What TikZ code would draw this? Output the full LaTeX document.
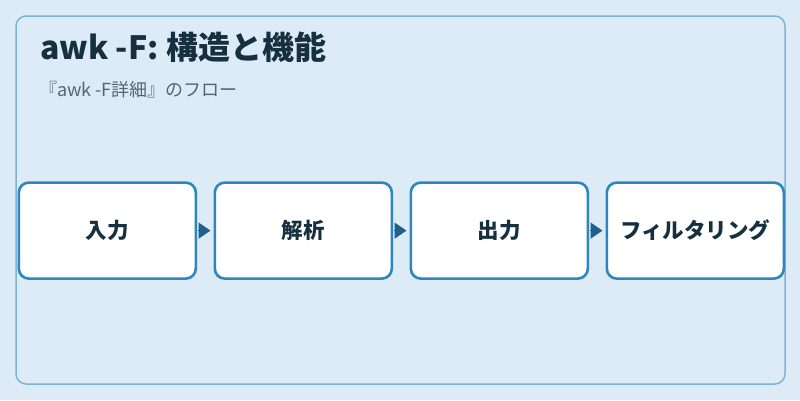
\documentclass[tikz,border=0pt]{standalone}
\usepackage{fontspec}
\setmainfont{Noto Sans CJK JP}
\usetikzlibrary{arrows.meta}
\definecolor{bgc}{HTML}{DCEBF6}
\definecolor{framec}{HTML}{7FB3D5}
\definecolor{boxc}{HTML}{2E86C1}
\definecolor{arrc}{HTML}{1F618D}
\definecolor{titlec}{HTML}{17303F}
\definecolor{subc}{HTML}{566573}
\tikzset{
  stepbox/.style={draw=boxc, line width=2.6pt, fill=white, rounded corners=10pt,
    minimum width=177pt, minimum height=96pt, inner sep=0pt,
    font=\fontsize{21.5pt}{24pt}\selectfont\bfseries, text=titlec, anchor=north west},
  flow/.style={draw=arrc, line width=1.5pt, -{Triangle[length=12pt,width=16pt]}, arrc,
    shorten <=1pt, shorten >=3pt}
}
\begin{document}
\begin{tikzpicture}[x=1pt,y=-1pt]
\useasboundingbox (0,0) rectangle (800,400);
\fill[bgc] (0,0) rectangle (800,400);
\draw[framec, line width=1.5pt, rounded corners=10pt] (16,16) rectangle (785,384);
\node[anchor=base west, inner sep=0pt, text=titlec, font=\fontsize{32pt}{36pt}\selectfont\bfseries] (title) at (40,59) {awk -F: 構造と機能};
\node[anchor=base west, inner sep=0pt, text=subc, font=\fontsize{18pt}{22pt}\selectfont] (sub) at (39,96) {『awk -F詳細』のフロー};
\node[stepbox] (a) at (17.5,181.3) {入力};
\node[stepbox] (b) at (213.5,181.3) {解析};
\node[stepbox] (c) at (409.5,181.3) {出力};
\node[stepbox] (d) at (605.5,181.3) {フィルタリング};
\draw[flow] (a.east) -- (b.west);
\draw[flow] (b.east) -- (c.west);
\draw[flow] (c.east) -- (d.west);
\end{tikzpicture}
\end{document}
